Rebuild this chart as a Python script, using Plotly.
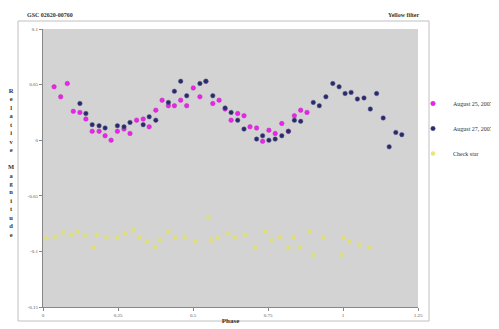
import plotly.graph_objects as go

# Aug 25, 2007 (magenta)
aug25_phase = [0.037, 0.059, 0.081, 0.101, 0.123, 0.143, 0.164, 0.187, 0.207, 0.227,
               0.248, 0.270, 0.290, 0.312, 0.334, 0.354, 0.376, 0.397, 0.418, 0.438,
               0.459, 0.479, 0.501, 0.523, 0.543, 0.566, 0.587, 0.607, 0.627, 0.649,
               0.670, 0.690, 0.712, 0.732, 0.753, 0.774, 0.796, 0.818, 0.838, 0.859, 0.880]
aug25_mag = [0.048, 0.039, 0.051, 0.026, 0.025, 0.019, 0.008, 0.008, 0.004, 0.000,
             0.008, 0.010, 0.006, 0.018, 0.019, 0.012, 0.027, 0.036, 0.031, 0.031,
             0.036, 0.031, 0.047, 0.039, 0.053, 0.033, 0.036, 0.028, 0.018, 0.024,
             0.022, 0.012, 0.011, -0.001, 0.009, 0.006, 0.015, 0.008, 0.022, 0.027, 0.025]

# Aug 27, 2007 (navy)
aug27_phase = [0.123, 0.143, 0.164, 0.187, 0.207, 0.248, 0.270, 0.290, 0.334, 0.354,
               0.376, 0.418, 0.438, 0.459, 0.479, 0.523, 0.543, 0.566, 0.607, 0.627,
               0.649, 0.670, 0.712, 0.732, 0.753, 0.774, 0.796, 0.818, 0.838, 0.859,
               0.901, 0.921, 0.943, 0.966, 0.987, 1.007, 1.027, 1.048, 1.070, 1.091,
               1.112, 1.134, 1.154, 1.176, 1.196]
aug27_mag = [0.033, 0.024, 0.014, 0.013, 0.011, 0.013, 0.012, 0.016, 0.014, 0.021,
             0.018, 0.034, 0.044, 0.053, 0.040, 0.051, 0.053, 0.040, 0.029, 0.025,
             0.018, 0.010, 0.001, 0.004, 0.000, 0.001, 0.004, 0.008, 0.018, 0.017,
             0.034, 0.031, 0.039, 0.051, 0.048, 0.042, 0.043, 0.037, 0.038, 0.028,
             0.042, 0.020, -0.006, 0.007, 0.005]

# Check star (yellow)
check_phase = [0.012, 0.040, 0.067, 0.096, 0.117, 0.140, 0.168, 0.179, 0.212, 0.246,
               0.273, 0.301, 0.323, 0.346, 0.373, 0.390, 0.418, 0.440, 0.473, 0.507,
               0.551, 0.560, 0.584, 0.618, 0.640, 0.673, 0.707, 0.740, 0.762, 0.790,
               0.818, 0.834, 0.857, 0.890, 0.901, 0.934, 0.996, 1.001, 1.023, 1.057, 1.090]
check_mag = [-0.088, -0.087, -0.083, -0.085, -0.082, -0.086, -0.097, -0.085, -0.087, -0.088,
             -0.084, -0.081, -0.088, -0.091, -0.096, -0.090, -0.082, -0.088, -0.087, -0.091,
             -0.069, -0.090, -0.088, -0.084, -0.088, -0.085, -0.097, -0.082, -0.090, -0.087,
             -0.097, -0.087, -0.096, -0.082, -0.103, -0.087, -0.103, -0.088, -0.091, -0.094, -0.096]

x_ticks = [0, 0.25, 0.5, 0.75, 1, 1.25]
x_ticktext = ["0", "0.25", "0.5", "0.75", "1", "1.25"]
y_ticks = [-0.15, -0.1, -0.05, 0, 0.05, 0.1]
y_ticktext = ["-0.15", "-0.1", "-0.05", "0", "0.05", "0.1"]

FONT = "Liberation Serif"

fig = go.Figure()
fig.add_trace(go.Scatter(x=aug25_phase, y=aug25_mag, mode="markers", name="August 25, 2007",
                         legendgroup="a",
                         marker=dict(color="#f020f0", size=4.5, symbol="circle",
                                     line=dict(width=0.5, color="#b030b0"))))
fig.add_trace(go.Scatter(x=aug27_phase, y=aug27_mag, mode="markers", name="August 27, 2007",
                         legendgroup="b",
                         marker=dict(color="#2a2a6a", size=4.5, symbol="circle",
                                     line=dict(width=0.5, color="#55558a"))))
fig.add_trace(go.Scatter(x=check_phase, y=check_mag, mode="markers", name="Check star",
                         legendgroup="c",
                         marker=dict(color="#e2e26a", size=4.5, symbol="circle", opacity=0.85,
                                     line=dict(width=0))))

# The page body adds an 8px offset; lay out in page pixels and compensate.
OFF = 8
PAGE_W, PAGE_H = 499, 329
W, H = PAGE_W - OFF, PAGE_H - OFF
PL, PR, PT, PB = 43, 418, 29, 307  # plot area in page pixels
L, T = PL - OFF, PT - OFF
R = W - (PR - OFF)
B = H - (PB - OFF)
pw, ph = PR - PL, PB - PT

def px2x(p):
    return (p - PL) / pw

def py2y(p):
    return 1 - (p - PT) / ph

fig.update_layout(
    width=W, height=H,
    margin=dict(l=L, r=R, t=T, b=B, pad=0, autoexpand=False),
    paper_bgcolor="white",
    plot_bgcolor="#d3d3d3",
    font=dict(family=FONT, size=6, color="#333333"),
    showlegend=True,
    legend=dict(x=px2x(413), y=py2y(89), xanchor="left", yanchor="top",
                font=dict(size=6, family=FONT, color="#333333"),
                tracegroupgap=6, bgcolor="rgba(0,0,0,0)"),
    xaxis=dict(range=[0, 1.25], tickvals=x_ticks, ticktext=x_ticktext, showgrid=False,
               zeroline=False, showline=True, linecolor="#888888", linewidth=1,
               ticks="outside", ticklen=3, tickcolor="#888888",
               tickfont=dict(size=5, family=FONT, color="#555555"),
               title=dict(text="<b>Phase</b>", font=dict(size=7, family=FONT, color="#333333"),
                          standoff=1)),
    yaxis=dict(range=[-0.15, 0.1], tickvals=y_ticks, ticktext=y_ticktext, showgrid=False,
               zeroline=False, showline=True, linecolor="#888888", linewidth=1,
               ticks="outside", ticklen=3, tickcolor="#888888",
               tickfont=dict(size=5, family=FONT, color="#555555")),
    shapes=[dict(type="rect", xref="paper", yref="paper",
                 x0=px2x(18), x1=px2x(429), y0=py2y(321), y1=py2y(21),
                 line=dict(color="#c0c0c0", width=1), fillcolor="rgba(0,0,0,0)", layer="below")],
    annotations=[
        dict(text="<b>GSC 02620-00760</b>", xref="paper", yref="paper", x=px2x(25), y=py2y(15),
             xanchor="left", yanchor="middle", showarrow=False,
             font=dict(size=6, family=FONT, color="#333333")),
        dict(text="<b>Yellow filter</b>", xref="paper", yref="paper", x=px2x(421), y=py2y(15),
             xanchor="right", yanchor="middle", showarrow=False,
             font=dict(size=6, family=FONT, color="#333333")),
        dict(text="<b>" + "<br>".join(list("Relative")) + "<br><br>" + "<br>".join(list("Magnitude")) + "</b>",
             xref="paper", yref="paper", x=px2x(11), y=py2y(162),
             xanchor="center", yanchor="middle", showarrow=False,
             font=dict(size=6.5, family=FONT, color="#333333")),
    ],
)

fig.write_html("out.html")
